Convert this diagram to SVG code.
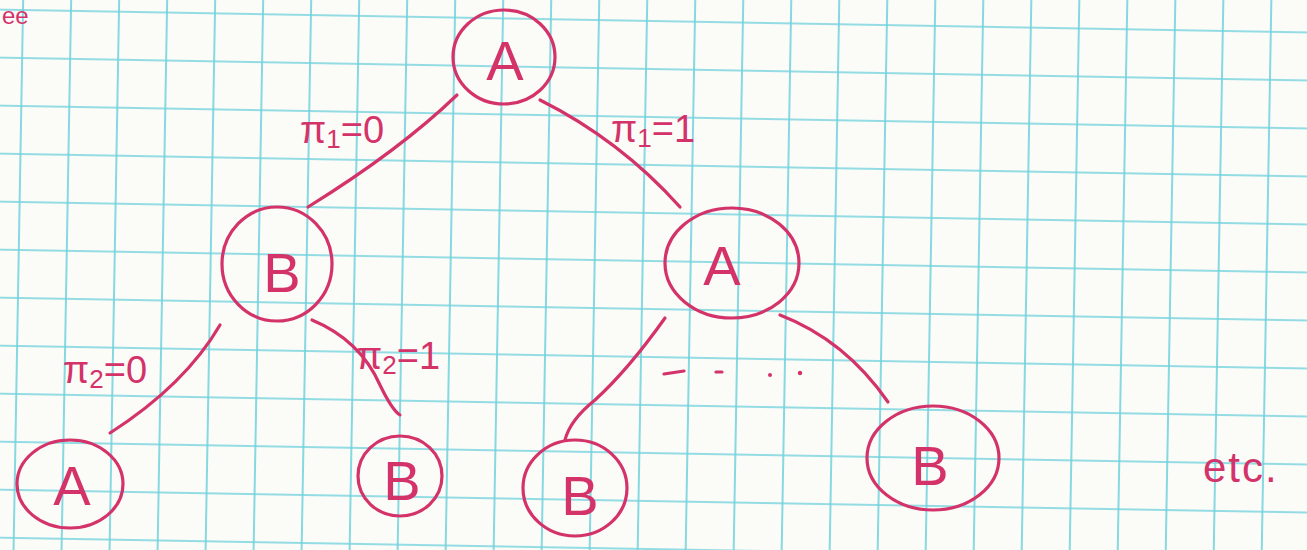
<svg xmlns="http://www.w3.org/2000/svg" width="1307" height="550" viewBox="0 0 1307 550">
  <defs>
    <pattern id="grid" patternUnits="userSpaceOnUse" width="48" height="48" patternTransform="translate(22 9) rotate(1.0)">
      <path d="M0 1H48M1 0V48" fill="none" stroke="#72d2dd" stroke-width="1.7"/>
    </pattern>
    <style>
      .pen { fill: none; stroke: #d4336a; stroke-width: 3.2; stroke-linecap: round; stroke-linejoin: round; }
      .node ellipse { fill: none; stroke: #d4336a; stroke-width: 3.2; }
      .node text { font-family: "Liberation Sans", Arial, sans-serif; font-size: 56px; fill: #d4336a; text-anchor: middle; }
      .lbl { font-family: "Liberation Sans", Arial, sans-serif; font-size: 38px; fill: #d4336a; }
      .sub { font-size: 26px; }
    </style>
  </defs>

  <rect x="0" y="0" width="1307" height="550" fill="#fbfbf8"/>
  <rect x="0" y="0" width="1307" height="550" fill="url(#grid)"/>

  <!-- partial title at top-left -->
  <text class="lbl" x="2" y="24" style="font-size:24px">ee</text>

  <g id="connectors">
    <path class="pen" d="M457 95 Q 400 150 308 207"/>
    <path class="pen" d="M540 100 Q 620 140 680 207"/>
    <path class="pen" d="M220 325 Q 185 385 110 433"/>
    <path class="pen" d="M312 320 Q 360 340 380 385 Q 392 410 400 415"/>
    <path class="pen" d="M665 318 Q 628 370 595 400 Q 570 420 565 440"/>
    <path class="pen" d="M780 315 Q 845 340 888 402"/>
    <!-- dashes and dots -->
    <path class="pen" d="M664 374L684 371M716 372L722 372"/>
    <circle cx="770" cy="375" r="2" fill="#d4336a"/>
    <circle cx="800" cy="373" r="2.2" fill="#d4336a"/>
  </g>

  <g id="labels">
    <text class="lbl" x="300" y="143">π<tspan class="sub" dy="5">1</tspan><tspan dy="-5">=0</tspan></text>
    <text class="lbl" x="611" y="142">π<tspan class="sub" dy="5">1</tspan><tspan dy="-5">=1</tspan></text>
    <text class="lbl" x="63" y="383">π<tspan class="sub" dy="5">2</tspan><tspan dy="-5">=0</tspan></text>
    <text class="lbl" x="356" y="369">π<tspan class="sub" dy="5">2</tspan><tspan dy="-5">=1</tspan></text>
    <text class="lbl" x="1203" y="482" style="font-size:42px;letter-spacing:2px">etc.</text>
  </g>

  <g id="n-root" class="node">
    <ellipse cx="504" cy="57" rx="51" ry="47"/>
    <text x="505" y="80">A</text>
  </g>
  <g id="n-left" class="node">
    <ellipse cx="277" cy="264" rx="55" ry="57"/>
    <text x="282" y="292">B</text>
  </g>
  <g id="n-right" class="node">
    <ellipse cx="732" cy="263" rx="67" ry="55"/>
    <text x="722" y="285">A</text>
  </g>
  <g id="n-ll" class="node">
    <ellipse cx="70" cy="484" rx="53" ry="44"/>
    <text x="72" y="505">A</text>
  </g>
  <g id="n-lr" class="node">
    <ellipse cx="400" cy="476" rx="42" ry="40"/>
    <text x="402" y="500">B</text>
  </g>
  <g id="n-rl" class="node">
    <ellipse cx="575" cy="488" rx="52" ry="48"/>
    <text x="580" y="515">B</text>
  </g>
  <g id="n-rr" class="node">
    <ellipse cx="933" cy="458" rx="66" ry="52"/>
    <text x="930" y="485">B</text>
  </g>
</svg>
